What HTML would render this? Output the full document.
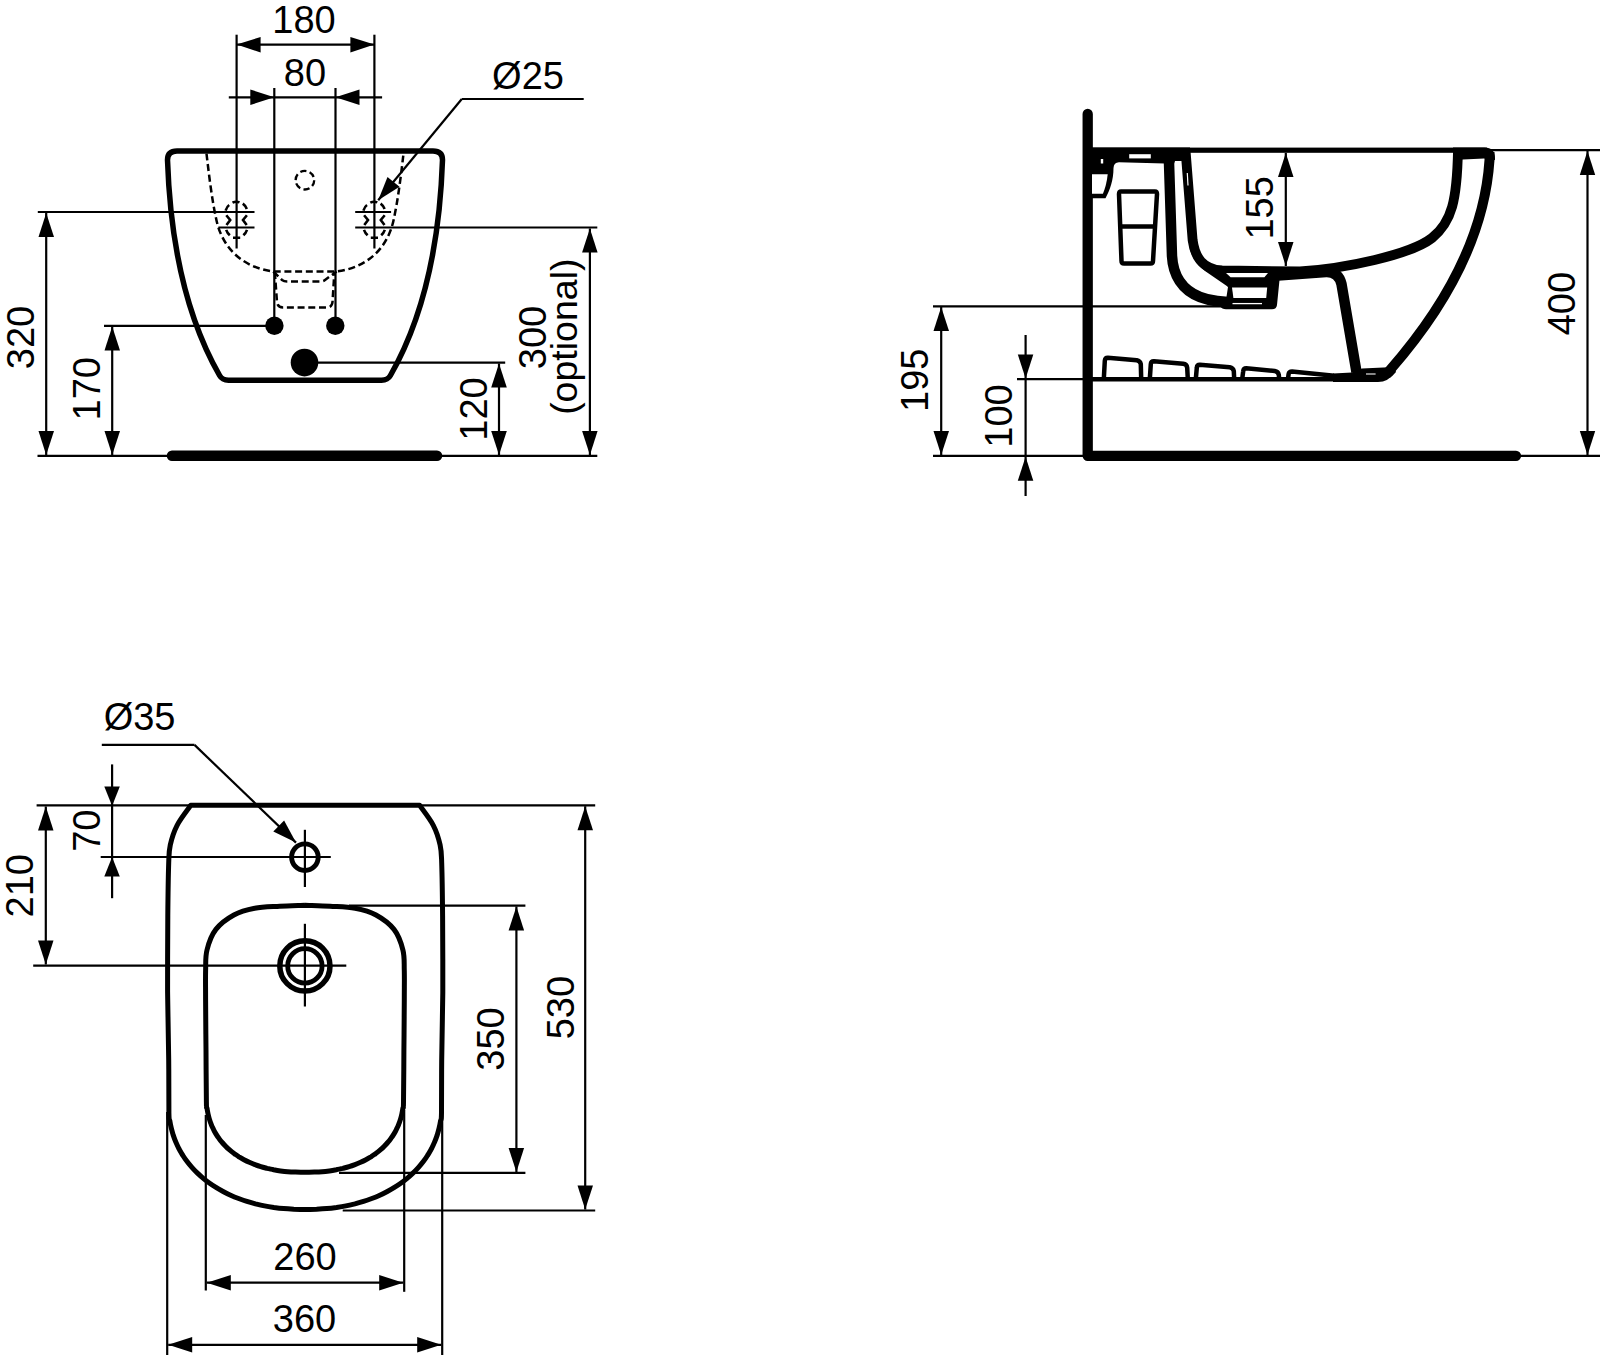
<!DOCTYPE html>
<html><head><meta charset="utf-8"><style>html,body{margin:0;padding:0;background:#fff;}svg{display:block}</style></head>
<body><svg width="1600" height="1355" viewBox="0 0 1600 1355" font-family="'Liberation Sans', sans-serif" fill="#000" stroke="#000">
<g fill="#000" stroke="#000">
<line x1="236.6" y1="34.7" x2="236.6" y2="248.5" stroke-width="2.2" />
<line x1="374.4" y1="34.7" x2="374.4" y2="248.5" stroke-width="2.2" />
<line x1="236.6" y1="44.6" x2="374.4" y2="44.6" stroke-width="2.2" />
<polygon points="236.6,44.6 260.6,36.9 260.6,52.4" stroke="none"/>
<polygon points="374.4,44.6 350.4,52.4 350.4,36.9" stroke="none"/>
<text stroke="none" x="304.0" y="32.5" font-size="38" text-anchor="middle">180</text>
<line x1="274.3" y1="88.0" x2="274.3" y2="326.0" stroke-width="2.2" />
<line x1="335.5" y1="88.0" x2="335.5" y2="326.0" stroke-width="2.2" />
<line x1="228.8" y1="97.3" x2="382.1" y2="97.3" stroke-width="2.2" />
<polygon points="274.3,97.3 250.3,105.0 250.3,89.5" stroke="none"/>
<polygon points="335.5,97.3 359.5,89.5 359.5,105.0" stroke="none"/>
<text stroke="none" x="305.0" y="85.5" font-size="38" text-anchor="middle">80</text>
<text stroke="none" x="528.0" y="88.5" font-size="38" text-anchor="middle">Ø25</text>
<line x1="461.8" y1="99.0" x2="583.7" y2="99.0" stroke-width="2.2" />
<line x1="461.8" y1="99.0" x2="378.2" y2="200.3" stroke-width="2.2" />
<polygon points="378.2,200.3 387.5,176.9 399.5,186.7" stroke="none"/>
<path d="M177,151 L433,151 Q442.5,151 442.5,160 C440,233.3 427.3,311 390.4,375.5 Q387.8,380.2 381.5,380.2 L228.5,380.2 Q222.2,380.2 219.6,375.5 C182.7,311 170,233.3 167.5,160 Q167.5,151 177,151 Z" fill="none" stroke-width="5.5" stroke-linejoin="round"/>
<line x1="37.8" y1="212.0" x2="254.5" y2="212.0" stroke-width="2.2" />
<line x1="218.4" y1="227.5" x2="254.5" y2="227.5" stroke-width="2.2" />
<line x1="355.2" y1="212.0" x2="391.1" y2="212.0" stroke-width="2.2" />
<line x1="355.2" y1="227.5" x2="597.3" y2="227.5" stroke-width="2.2" />
<line x1="104.0" y1="325.9" x2="274.0" y2="325.9" stroke-width="2.2" />
<line x1="304.0" y1="362.6" x2="505.2" y2="362.6" stroke-width="2.2" />
<line x1="37.5" y1="455.8" x2="172.0" y2="455.8" stroke-width="2.2" />
<line x1="436.0" y1="455.8" x2="597.3" y2="455.8" stroke-width="2.2" />
<line x1="172.0" y1="455.8" x2="437.0" y2="455.8" stroke-width="10.5" stroke-linecap="round"/>
<circle cx="274.4" cy="325.8" r="9.2" stroke="none"/>
<circle cx="335.3" cy="325.8" r="9.2" stroke="none"/>
<circle cx="304.5" cy="362.6" r="13.8" stroke="none"/>
<path d="M206.5,153.6 C209,175 212,200 216,218 C222,250 245,268 273.3,271.5 L336.6,271.5 C365,268 388,250 394,218 C398,200 401,175 403.5,153.6" stroke-width="2.5" stroke-dasharray="7 3.7" fill="none"/>
<path d="M273.3,271.5 L282,280 Q284,281.5 287,281.5 L320,281.5 Q323,281.5 325,280 L336.6,271.5" stroke-width="2.5" stroke-dasharray="7 3.7" fill="none"/>
<path d="M274.8,272 L277,302 Q277.6,307.4 283,307.4 L327,307.4 Q332,307.4 332.5,302 L334.4,272" stroke-width="2.5" stroke-dasharray="7 3.7" fill="none"/>
<circle cx="304.9" cy="180.2" r="9.3" stroke-width="2.3" fill="none" stroke-dasharray="6.3 3.4"/>
<path transform="translate(0.0,0)" d="M225.6,210.6 Q227,206.5 229.2,205 M232.5,202.7 Q236,200.9 239.5,202.4 M242.8,203.6 Q245.6,205.6 246.8,209 M226.3,215.2 L230.2,220 L226.5,225 M246.9,215.2 L243,220 L246.7,225 M226.2,229.8 Q227.3,233 229.8,235.3 M243.4,235.3 Q245.9,233 247,229.8 M233,237.8 L240.2,237.8" stroke-width="2.6" fill="none"/>
<path transform="translate(137.79999999999998,0)" d="M225.6,210.6 Q227,206.5 229.2,205 M232.5,202.7 Q236,200.9 239.5,202.4 M242.8,203.6 Q245.6,205.6 246.8,209 M226.3,215.2 L230.2,220 L226.5,225 M246.9,215.2 L243,220 L246.7,225 M226.2,229.8 Q227.3,233 229.8,235.3 M243.4,235.3 Q245.9,233 247,229.8 M233,237.8 L240.2,237.8" stroke-width="2.6" fill="none"/>
<line x1="46.2" y1="213.0" x2="46.2" y2="455.0" stroke-width="2.2" />
<polygon points="46.2,213.0 54.0,237.0 38.5,237.0" stroke="none"/>
<polygon points="46.2,455.0 38.5,431.0 54.0,431.0" stroke="none"/>
<text stroke="none" transform="translate(33.9,337.5) rotate(-90)" x="0" y="0" font-size="38" text-anchor="middle">320</text>
<line x1="112.2" y1="326.5" x2="112.2" y2="455.0" stroke-width="2.2" />
<polygon points="112.2,326.5 120.0,350.5 104.5,350.5" stroke="none"/>
<polygon points="112.2,455.0 104.5,431.0 120.0,431.0" stroke="none"/>
<text stroke="none" transform="translate(99.6,388.7) rotate(-90)" x="0" y="0" font-size="38" text-anchor="middle">170</text>
<line x1="499.0" y1="363.5" x2="499.0" y2="455.0" stroke-width="2.2" />
<polygon points="499.0,363.5 506.8,387.5 491.2,387.5" stroke="none"/>
<polygon points="499.0,455.0 491.2,431.0 506.8,431.0" stroke="none"/>
<text stroke="none" transform="translate(486.6,409.0) rotate(-90)" x="0" y="0" font-size="38" text-anchor="middle">120</text>
<line x1="589.9" y1="228.5" x2="589.9" y2="455.0" stroke-width="2.2" />
<polygon points="589.9,228.5 597.6,252.5 582.1,252.5" stroke="none"/>
<polygon points="589.9,455.0 582.1,431.0 597.6,431.0" stroke="none"/>
<text stroke="none" transform="translate(545.5,337.5) rotate(-90)" x="0" y="0" font-size="38" text-anchor="middle">300</text>
<text stroke="none" transform="translate(577.3,336.7) rotate(-90)" x="0" y="0" font-size="37.5" text-anchor="middle">(optional)</text>
<line x1="933.0" y1="306.3" x2="1233.0" y2="306.3" stroke-width="2.2" />
<line x1="941.2" y1="307.0" x2="941.2" y2="455.0" stroke-width="2.2" />
<polygon points="941.2,307.0 949.0,331.0 933.5,331.0" stroke="none"/>
<polygon points="941.2,455.0 933.5,431.0 949.0,431.0" stroke="none"/>
<text stroke="none" transform="translate(928.0,380.3) rotate(-90)" x="0" y="0" font-size="38" text-anchor="middle">195</text>
<line x1="1017.0" y1="379.1" x2="1100.0" y2="379.1" stroke-width="2.2" />
<line x1="1025.6" y1="335.0" x2="1025.6" y2="496.0" stroke-width="2.2" />
<polygon points="1025.6,378.4 1017.8,354.4 1033.3,354.4" stroke="none"/>
<polygon points="1025.6,456.7 1033.3,480.7 1017.8,480.7" stroke="none"/>
<text stroke="none" transform="translate(1011.7,416.0) rotate(-90)" x="0" y="0" font-size="38" text-anchor="middle">100</text>
<line x1="933.0" y1="455.9" x2="1090.0" y2="455.9" stroke-width="2.2" />
<line x1="1490.0" y1="150.2" x2="1600.0" y2="150.2" stroke-width="2.2" />
<line x1="1516.0" y1="455.8" x2="1600.0" y2="455.8" stroke-width="2.2" />
<line x1="1587.5" y1="151.0" x2="1587.5" y2="455.0" stroke-width="2.2" />
<polygon points="1587.5,151.0 1595.2,175.0 1579.8,175.0" stroke="none"/>
<polygon points="1587.5,455.0 1579.8,431.0 1595.2,431.0" stroke="none"/>
<text stroke="none" transform="translate(1575.3,303.6) rotate(-90)" x="0" y="0" font-size="38" text-anchor="middle">400</text>
<line x1="1285.8" y1="152.9" x2="1285.8" y2="266.0" stroke-width="2.2" />
<polygon points="1285.8,152.9 1293.5,176.9 1278.0,176.9" stroke="none"/>
<polygon points="1285.8,266.0 1278.0,242.0 1293.5,242.0" stroke="none"/>
<text stroke="none" transform="translate(1273.4,207.9) rotate(-90)" x="0" y="0" font-size="38" text-anchor="middle">155</text>
<path d="M1087.7,114 L1087.7,455.8 L1516,455.8" stroke-width="10.3" fill="none" stroke-linecap="round" stroke-linejoin="round"/>
<rect x="1092" y="147.6" width="395" height="5.2" stroke="none"/>
<path d="M1092,147.6 L1190,147.6 L1190,161 L1175,161 L1174,163.8 L1119,162.3 Q1113.8,162.5 1113.5,168 C1113.5,180 1110,190 1105.5,198.3 L1092,198.3 Z" stroke="none"/>
<rect x="1129.2" y="154.2" width="21.6" height="4.2" fill="#fff" stroke="none"/>
<rect x="1100.8" y="159" width="2.4" height="4.5" fill="#fff" stroke="none"/>
<path d="M1092,174.3 L1107.7,174.3 C1107,182 1105,189 1102.9,193.8 L1092,193.8 Z" fill="#fff" stroke="none"/>
<path d="M1121,191.5 L1155,191.5 Q1157,191.5 1157,194 L1153,261 Q1153,263.5 1150.5,263.5 L1124,263.5 Q1121.5,263.5 1121.5,261 L1119,194 Q1119,191.5 1121,191.5 Z" fill="none" stroke-width="4.5"/>
<line x1="1120.0" y1="226.6" x2="1156.0" y2="226.6" stroke-width="4.5" />
<path d="M1168.6,150 L1172,256 C1173,275 1182,290 1200,297 C1210,301 1222,302.5 1240,302.5" fill="none" stroke-width="10.5"/>
<path d="M1185.5,150 L1192.6,240 C1195,258 1203,269 1222,270.5 L1300,271.5 C1345,268.5 1410,255 1432,238 C1452,222 1457,200 1458,150" fill="none" stroke-width="9.8"/>
<path d="M1190,250 C1193,259 1198,266 1205,271 L1229,287.5 L1233,287.5 L1233,268 L1210,268 Z" stroke="none"/>
<path d="M1187.3,173 L1188,185.5" stroke="#fff" stroke-width="1.2"/>
<path d="M1215,268 L1280,268 L1279.4,281 L1277,305 Q1276.5,309.2 1272,309.2 L1226,309.2 Q1222,309.2 1220,306 L1226,300 L1228,287 Z" stroke="none"/>
<path d="M1226,273.1 L1268,273.1 L1264.4,277.3 L1230.6,277.3 Z" fill="#fff" stroke="none"/>
<path d="M1232,287.6 L1267.2,287.6 L1266.2,298 L1233.4,298 Z" fill="#fff" stroke="none"/>
<line x1="1232.5" y1="303.6" x2="1262.0" y2="303.6" stroke-width="1.3" stroke="#fff"/>
<path d="M1453,147.6 L1484.5,147.6 Q1495,147.6 1495,158.5 L1495,160 L1484,158.6 L1463,159.6 L1453,160 Z" stroke="none"/>
<path d="M1489.5,152 L1489.5,160 C1484.3,239.2 1441.1,311.6 1390,370 L1386,375" fill="none" stroke-width="10"/>
<path d="M1278,275.5 L1326,272 Q1338.5,271.5 1341.5,284 L1356.5,372" fill="none" stroke-width="10.5"/>
<path d="M1092,379.2 L1340,379.2" stroke-width="4.6"/>
<path d="M1333,373.5 L1352,372.5 L1362,368.5 L1394,367 L1396,372 Q1388,382 1378,382 L1333,382 Z" stroke="none"/>
<path d="M1103.8,379 L1104.8,360.8 Q1105.0,357.8 1107.8,357.8 L1136.8,360.2 Q1140.2,360.8 1140.8,364.2 L1141.2,379" fill="none" stroke-width="4.5" stroke-linejoin="round"/>
<path d="M1149.8,379 L1150.8,364.2 Q1151.0,361.2 1153.8,361.2 L1183.2,363.8 Q1186.8,364.2 1187.2,367.8 L1187.8,379" fill="none" stroke-width="4.5" stroke-linejoin="round"/>
<path d="M1195.8,379 L1196.8,367.8 Q1197.0,364.8 1199.8,364.8 L1229.8,367.2 Q1233.2,367.8 1233.8,371.2 L1234.2,379" fill="none" stroke-width="4.5" stroke-linejoin="round"/>
<path d="M1242.2,379 L1243.2,371.2 Q1243.5,368.2 1246.2,368.2 L1274.8,370.9 Q1278.2,371.4 1278.8,374.9 L1279.2,379" fill="none" stroke-width="4.5" stroke-linejoin="round"/>
<path d="M1288,379 L1288.6,374 Q1289,371.4 1292,371.4 L1334,375.8" fill="none" stroke-width="4.5" stroke-linejoin="round"/>
<rect x="1366" y="373" width="9.6" height="2" fill="#888" stroke="none"/>
<text stroke="none" x="139.6" y="730.0" font-size="38" text-anchor="middle">Ø35</text>
<line x1="101.8" y1="744.9" x2="194.5" y2="744.9" stroke-width="2.2" />
<line x1="194.5" y1="744.9" x2="296.0" y2="842.6" stroke-width="2.2" />
<polygon points="296.0,842.6 273.3,831.5 284.1,820.4" stroke="none"/>
<path d="M419.6,805.3 L190.8,805.3 C188.5,808.6 180.5,818.7 177.1,825.3 C173.7,831.9 171.7,838.6 170.3,844.9 C168.9,851.2 169.1,851.1 168.7,863.0 C168.3,874.9 168.0,894.5 167.8,916.0 C167.7,937.5 167.5,967.7 167.6,991.7 C167.8,1015.7 168.4,1039.8 168.7,1060.0 C168.9,1080.2 168.8,1102.7 168.9,1112.8 C169.1,1122.9 169.4,1118.1 169.8,1120.7 C170.2,1123.3 170.7,1125.8 171.3,1128.2 C171.9,1130.7 172.6,1133.1 173.3,1135.4 C174.1,1137.8 175.0,1140.1 176.0,1142.4 C176.9,1144.7 178.0,1146.9 179.1,1149.1 C180.3,1151.2 181.5,1153.4 182.9,1155.5 C184.2,1157.6 185.6,1159.6 187.1,1161.6 C188.6,1163.6 190.2,1165.5 191.9,1167.4 C193.6,1169.3 195.4,1171.2 197.2,1172.9 C199.1,1174.7 201.0,1176.5 203.0,1178.1 C205.0,1179.8 207.1,1181.4 209.3,1183.0 C211.4,1184.5 213.7,1186.0 216.0,1187.4 C218.3,1188.9 220.7,1190.2 223.1,1191.5 C225.5,1192.8 228.1,1194.1 230.6,1195.2 C233.2,1196.4 235.9,1197.5 238.6,1198.5 C241.3,1199.5 244.0,1200.5 246.9,1201.4 C249.7,1202.3 252.6,1203.1 255.5,1203.9 C258.5,1204.6 261.5,1205.3 264.5,1205.9 C267.6,1206.5 270.7,1207.0 273.9,1207.5 C277.0,1207.9 280.3,1208.3 283.6,1208.6 C286.9,1208.9 290.2,1209.1 293.8,1209.3 C297.4,1209.4 301.4,1209.5 305.2,1209.5 C309.0,1209.5 313.0,1209.4 316.6,1209.3 C320.2,1209.1 323.5,1208.9 326.8,1208.6 C330.1,1208.3 333.4,1207.9 336.5,1207.5 C339.7,1207.0 342.8,1206.5 345.9,1205.9 C348.9,1205.3 351.9,1204.6 354.9,1203.9 C357.8,1203.1 360.7,1202.3 363.5,1201.4 C366.4,1200.5 369.1,1199.5 371.8,1198.5 C374.5,1197.5 377.2,1196.4 379.8,1195.2 C382.3,1194.1 384.9,1192.8 387.3,1191.5 C389.7,1190.2 392.1,1188.9 394.4,1187.4 C396.7,1186.0 399.0,1184.5 401.1,1183.0 C403.3,1181.4 405.4,1179.8 407.4,1178.1 C409.4,1176.5 411.3,1174.7 413.2,1172.9 C415.0,1171.2 416.8,1169.3 418.5,1167.4 C420.2,1165.5 421.8,1163.6 423.3,1161.6 C424.8,1159.6 426.2,1157.6 427.5,1155.5 C428.9,1153.4 430.1,1151.2 431.3,1149.1 C432.4,1146.9 433.5,1144.7 434.4,1142.4 C435.4,1140.1 436.3,1137.8 437.1,1135.4 C437.8,1133.1 438.5,1130.7 439.1,1128.2 C439.7,1125.8 440.2,1123.3 440.6,1120.7 C441.0,1118.1 441.3,1122.9 441.5,1112.8 C441.6,1102.7 441.5,1080.2 441.7,1060.0 C442.0,1039.8 442.6,1015.7 442.8,991.7 C442.9,967.7 442.7,937.5 442.6,916.0 C442.4,894.5 442.1,874.9 441.7,863.0 C441.3,851.1 441.5,851.2 440.1,844.9 C438.7,838.6 436.7,831.9 433.3,825.3 C429.9,818.7 421.9,808.6 419.6,805.3 Z" fill="none" stroke-width="5" stroke-linejoin="round"/>
<path d="M304.95,905.3 C300.8,905.5 288.2,905.8 279.8,906.3 C271.5,906.8 262.3,906.8 254.7,908.3 C247.0,909.8 240.4,911.5 233.9,915.0 C227.5,918.5 220.4,923.6 215.9,929.4 C211.4,935.2 208.7,943.1 207.0,950.0 C205.2,956.9 205.9,962.4 205.6,970.7 C205.4,979.0 205.6,986.8 205.6,1000.0 C205.7,1013.2 205.8,1033.0 206.0,1050.0 C206.1,1067.0 206.2,1092.2 206.4,1101.9 C206.5,1111.6 206.7,1106.1 207.0,1108.1 C207.2,1110.0 207.6,1111.9 208.0,1113.8 C208.4,1115.6 208.8,1117.4 209.4,1119.2 C209.9,1121.0 210.5,1122.7 211.2,1124.3 C211.8,1126.0 212.6,1127.6 213.4,1129.2 C214.1,1130.8 215.0,1132.4 215.9,1133.9 C216.8,1135.4 217.8,1136.9 218.9,1138.3 C219.9,1139.8 221.0,1141.2 222.2,1142.5 C223.4,1143.9 224.6,1145.2 225.9,1146.5 C227.1,1147.8 228.5,1149.0 229.9,1150.2 C231.3,1151.4 232.7,1152.5 234.2,1153.6 C235.8,1154.7 237.3,1155.8 238.9,1156.8 C240.6,1157.8 242.2,1158.8 244.0,1159.7 C245.7,1160.6 247.5,1161.5 249.3,1162.3 C251.1,1163.1 253.0,1163.9 254.9,1164.6 C256.8,1165.3 258.8,1166.0 260.8,1166.6 C262.9,1167.3 264.9,1167.8 267.1,1168.4 C269.2,1168.9 271.4,1169.3 273.6,1169.8 C275.8,1170.2 278.1,1170.6 280.5,1170.9 C282.8,1171.2 285.2,1171.5 287.7,1171.7 C290.2,1171.9 292.7,1172.0 295.5,1172.1 C298.4,1172.2 301.8,1172.3 304.9,1172.3 C308.1,1172.3 311.5,1172.2 314.4,1172.1 C317.2,1172.0 319.7,1171.9 322.2,1171.7 C324.7,1171.5 327.1,1171.2 329.4,1170.9 C331.8,1170.6 334.1,1170.2 336.3,1169.8 C338.5,1169.3 340.7,1168.9 342.8,1168.4 C345.0,1167.8 347.0,1167.3 349.1,1166.6 C351.1,1166.0 353.1,1165.3 355.0,1164.6 C356.9,1163.9 358.8,1163.1 360.6,1162.3 C362.4,1161.5 364.2,1160.6 365.9,1159.7 C367.7,1158.8 369.3,1157.8 371.0,1156.8 C372.6,1155.8 374.1,1154.7 375.7,1153.6 C377.2,1152.5 378.6,1151.4 380.0,1150.2 C381.4,1149.0 382.8,1147.8 384.0,1146.5 C385.3,1145.2 386.5,1143.9 387.7,1142.5 C388.9,1141.2 390.0,1139.8 391.0,1138.3 C392.1,1136.9 393.1,1135.4 394.0,1133.9 C394.9,1132.4 395.8,1130.8 396.5,1129.2 C397.3,1127.6 398.1,1126.0 398.7,1124.3 C399.4,1122.7 400.0,1121.0 400.5,1119.2 C401.1,1117.4 401.5,1115.6 401.9,1113.8 C402.3,1111.9 402.7,1110.0 402.9,1108.1 C403.2,1106.1 403.4,1111.6 403.5,1101.9 C403.7,1092.2 403.8,1067.0 403.9,1050.0 C404.1,1033.0 404.2,1013.2 404.3,1000.0 C404.3,986.8 404.5,979.0 404.3,970.7 C404.0,962.4 404.7,956.9 402.9,950.0 C401.2,943.1 398.5,935.2 394.0,929.4 C389.5,923.6 382.4,918.5 376.0,915.0 C369.5,911.5 362.9,909.8 355.2,908.3 C347.6,906.8 338.4,906.8 330.1,906.3 C321.7,905.8 309.1,905.5 304.9,905.3 Z" fill="none" stroke-width="5"/>
<circle cx="304.9" cy="857.2" r="13.3" fill="none" stroke-width="4.9"/>
<line x1="304.9" y1="829.8" x2="304.9" y2="887.0" stroke-width="2.2" />
<line x1="100.7" y1="857.0" x2="330.8" y2="857.0" stroke-width="2.2" />
<circle cx="304.9" cy="965.9" r="25.1" fill="none" stroke-width="5.5"/>
<circle cx="304.9" cy="965.9" r="17.2" fill="none" stroke-width="4.8"/>
<line x1="304.9" y1="923.8" x2="304.9" y2="1006.5" stroke-width="2.2" />
<line x1="33.2" y1="965.7" x2="346.3" y2="965.7" stroke-width="2.2" />
<line x1="36.6" y1="805.3" x2="191.0" y2="805.3" stroke-width="2.2" />
<line x1="112.1" y1="764.4" x2="112.1" y2="898.2" stroke-width="2.2" />
<polygon points="112.1,806.0 104.3,786.5 119.8,786.5" stroke="none"/>
<polygon points="112.1,857.0 119.8,876.5 104.3,876.5" stroke="none"/>
<text stroke="none" transform="translate(99.5,830.7) rotate(-90)" x="0" y="0" font-size="38" text-anchor="middle">70</text>
<line x1="45.8" y1="806.5" x2="45.8" y2="964.5" stroke-width="2.2" />
<polygon points="45.8,806.5 53.5,830.5 38.0,830.5" stroke="none"/>
<polygon points="45.8,964.5 38.0,940.5 53.5,940.5" stroke="none"/>
<text stroke="none" transform="translate(33.2,885.7) rotate(-90)" x="0" y="0" font-size="38" text-anchor="middle">210</text>
<line x1="349.0" y1="905.6" x2="525.4" y2="905.6" stroke-width="2.2" />
<line x1="339.0" y1="1172.9" x2="525.4" y2="1172.9" stroke-width="2.2" />
<line x1="516.4" y1="906.6" x2="516.4" y2="1172.0" stroke-width="2.2" />
<polygon points="516.4,906.6 524.1,930.6 508.6,930.6" stroke="none"/>
<polygon points="516.4,1172.0 508.6,1148.0 524.1,1148.0" stroke="none"/>
<text stroke="none" transform="translate(503.8,1039.0) rotate(-90)" x="0" y="0" font-size="38" text-anchor="middle">350</text>
<line x1="419.0" y1="805.3" x2="595.2" y2="805.3" stroke-width="2.2" />
<line x1="342.7" y1="1210.5" x2="595.2" y2="1210.5" stroke-width="2.2" />
<line x1="585.2" y1="806.3" x2="585.2" y2="1209.5" stroke-width="2.2" />
<polygon points="585.2,806.3 593.0,830.3 577.5,830.3" stroke="none"/>
<polygon points="585.2,1209.5 577.5,1185.5 593.0,1185.5" stroke="none"/>
<text stroke="none" transform="translate(573.6,1007.6) rotate(-90)" x="0" y="0" font-size="38" text-anchor="middle">530</text>
<line x1="167.2" y1="1112.0" x2="167.2" y2="1355.0" stroke-width="2.2" />
<line x1="442.2" y1="1100.0" x2="442.2" y2="1355.0" stroke-width="2.2" />
<line x1="205.8" y1="1115.0" x2="205.8" y2="1290.5" stroke-width="2.2" />
<line x1="404.2" y1="1110.0" x2="404.2" y2="1291.8" stroke-width="2.2" />
<line x1="206.8" y1="1282.7" x2="403.2" y2="1282.7" stroke-width="2.2" />
<polygon points="206.8,1282.7 230.8,1275.0 230.8,1290.5" stroke="none"/>
<polygon points="403.2,1282.7 379.2,1290.5 379.2,1275.0" stroke="none"/>
<text stroke="none" x="305.0" y="1270.2" font-size="38" text-anchor="middle">260</text>
<line x1="168.2" y1="1344.8" x2="441.2" y2="1344.8" stroke-width="2.2" />
<polygon points="168.2,1344.8 192.2,1337.0 192.2,1352.5" stroke="none"/>
<polygon points="441.2,1344.8 417.2,1352.5 417.2,1337.0" stroke="none"/>
<text stroke="none" x="304.5" y="1332.2" font-size="38" text-anchor="middle">360</text>
</g></svg></body></html>
